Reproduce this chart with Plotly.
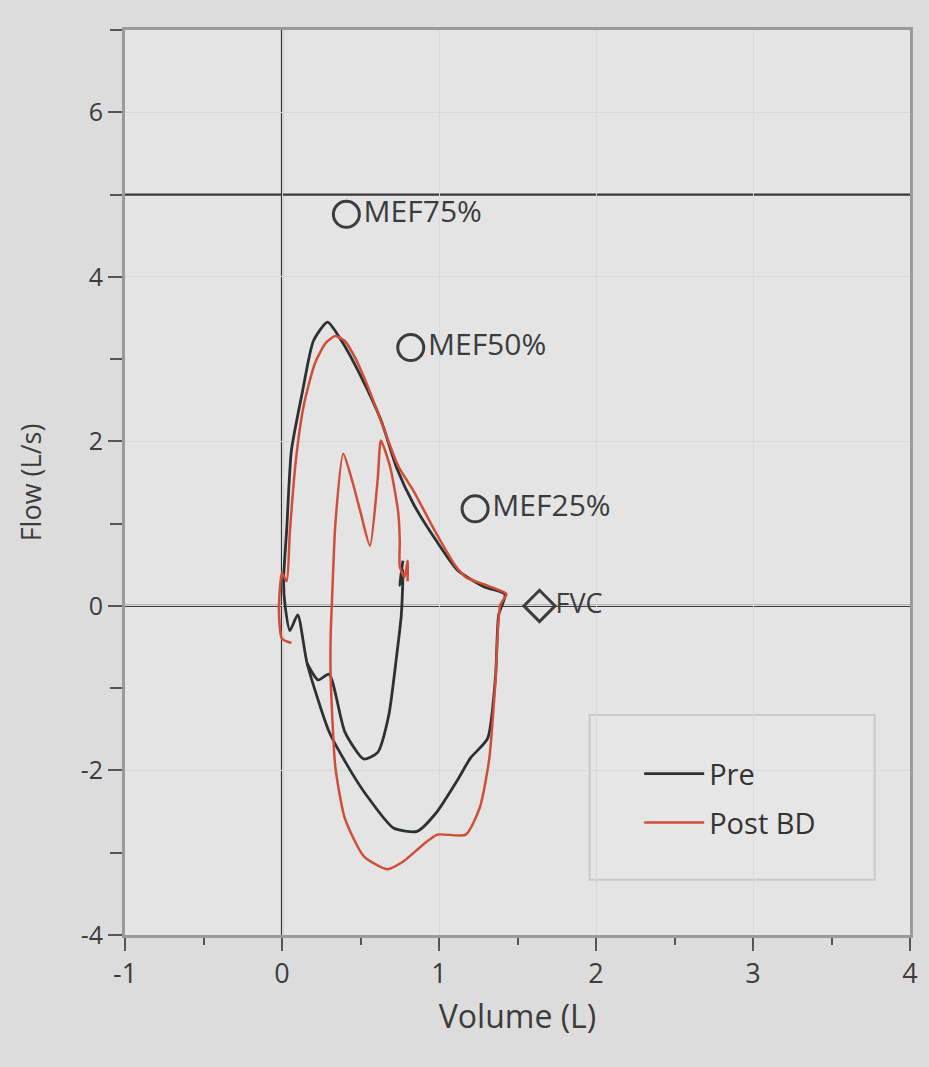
import plotly.graph_objects as go

# ---------------- data ----------------
# Pre: full loop (expiration + forced inspiration), then tidal loop
pre_loop_vol = [0.05, 0.02, 0.01, 0.03, 0.06, 0.13, 0.20, 0.29, 0.38, 0.50, 0.63, 0.73, 0.84,
                0.98, 1.12, 1.29, 1.42, 1.38, 1.36, 1.31, 1.20, 1.12, 0.98, 0.86, 0.71, 0.53,
                0.42, 0.30, 0.16, 0.10, 0.05]
pre_loop_flow = [-0.30, 0.00, 0.30, 0.93, 1.89, 2.60, 3.22, 3.45, 3.22, 2.80, 2.26, 1.68, 1.23,
                 0.80, 0.43, 0.23, 0.14, -0.11, -0.86, -1.61, -1.85, -2.11, -2.52, -2.74, -2.70, -2.28,
                 -1.95, -1.53, -0.70, -0.11, -0.30]
pre_tidal_vol = [0.16, 0.23, 0.30, 0.40, 0.52, 0.61, 0.68, 0.73, 0.76, 0.77, 0.75, 0.77]
pre_tidal_flow = [-0.70, -0.90, -0.83, -1.53, -1.86, -1.78, -1.33, -0.61, -0.11, 0.44, 0.25, 0.55]

# Post BD: start squiggle + expiration + forced inspiration + second effort
post_loop_vol = [0.06, 0.00, -0.02, 0.00, 0.03, 0.05, 0.09, 0.14, 0.21, 0.28, 0.34, 0.40, 0.47,
                 0.55, 0.63, 0.74, 0.84, 0.98, 1.10, 1.17, 1.29, 1.41, 1.43,
                 1.39, 1.36, 1.32, 1.26, 1.17, 0.99, 0.90, 0.77, 0.67, 0.52, 0.40, 0.34, 0.31,
                 0.31, 0.32, 0.34, 0.39, 0.45, 0.50, 0.56, 0.61, 0.63, 0.69, 0.74, 0.75, 0.75,
                 0.78, 0.80, 0.80]
post_loop_flow = [-0.45, -0.40, -0.05, 0.40, 0.30, 0.90, 1.80, 2.45, 2.95, 3.20, 3.28, 3.22, 3.00,
                  2.65, 2.25, 1.70, 1.39, 0.89, 0.50, 0.35, 0.26, 0.17, 0.14,
                  0.01, -0.90, -1.86, -2.45, -2.78, -2.78, -2.90, -3.11, -3.20, -3.04, -2.58, -1.96, -0.86,
                  -0.36, 0.14, 1.00, 1.85, 1.50, 1.14, 0.73, 1.55, 2.01, 1.68, 1.14, 0.80, 0.48,
                  0.35, 0.55, 0.30]

# Predicted reference points
mef_names = ["MEF75%", "MEF50%", "MEF25%"]
mef_vol = [0.41, 0.82, 1.23]
mef_flow = [4.76, 3.14, 1.18]
fvc_name = ["FVC"]
fvc_vol = [1.64]
fvc_flow = [0.0]

# Reference lines
ref_x = [0]
ref_y = [0, 5]

# Axes
x_range = [-1, 4]
y_range = [-4, 7]
x_tickvals = [-1, 0, 1, 2, 3, 4]
x_ticktext = ["-1", "0", "1", "2", "3", "4"]
y_tickvals = [-4, -2, 0, 2, 4, 6]
y_ticktext = ["-4", "-2", "0", "2", "4", "6"]

# ---------------- figure ----------------
PRE_C = "#2c3232"
POST_C = "#d04e38"
INK = "#3c3c3c"
FONT = "Open Sans"

fig = go.Figure()

pre_x = pre_loop_vol + [None] + pre_tidal_vol
pre_y = pre_loop_flow + [None] + pre_tidal_flow

fig.add_trace(go.Scatter(x=pre_x, y=pre_y, mode="lines", name="Pre",
                         legendgroup="pre", connectgaps=False,
                         line=dict(color=PRE_C, width=2.8, shape="spline", smoothing=0.6)))
fig.add_trace(go.Scatter(x=post_loop_vol, y=post_loop_flow, mode="lines", name="Post BD",
                         legendgroup="post",
                         line=dict(color=POST_C, width=2.5, shape="spline", smoothing=0.6)))

fig.add_trace(go.Scatter(x=mef_vol, y=mef_flow, mode="markers+text", text=mef_names,
                         textposition="middle right", showlegend=False,
                         textfont=dict(family=FONT, size=30, color=INK),
                         marker=dict(symbol="circle-open", size=26, color=INK,
                                     line=dict(width=3))))
fig.add_trace(go.Scatter(x=fvc_vol, y=fvc_flow, mode="markers+text", text=fvc_name,
                         textposition="middle right", showlegend=False,
                         textfont=dict(family=FONT, size=27, color=INK),
                         marker=dict(symbol="diamond-open", size=24, color=INK,
                                     line=dict(width=3))))

for xv in ref_x:
    fig.add_vline(x=xv, line=dict(color="#333333", width=2.2), layer="below")
for yv in ref_y:
    fig.add_hline(y=yv, line=dict(color="#3a3a3a", width=2.2), layer="below")

# legend box
fig.add_shape(type="rect", xref="paper", yref="paper",
              x0=0.592, x1=0.955, y0=0.061, y1=0.243,
              line=dict(color="#c9c9c9", width=2), fillcolor="#e6e6e6", layer="below")

fig.update_layout(
    width=929, height=1067,
    margin=dict(l=125, r=19, t=30, b=132),
    paper_bgcolor="#dcdcdc",
    plot_bgcolor="#e4e4e4",
    font=dict(family=FONT, color=INK),
    showlegend=True,
    legend=dict(x=0.655, y=0.151, xanchor="left", yanchor="middle",
                bgcolor="rgba(0,0,0,0)", borderwidth=0,
                font=dict(family=FONT, size=29, color="#333333"),
                itemwidth=60, tracegroupgap=8),
    xaxis=dict(range=x_range, tickmode="array", tickvals=x_tickvals, ticktext=x_ticktext,
               ticks="outside", ticklen=13, tickwidth=2, tickcolor="#555555",
               tickfont=dict(family=FONT, size=27, color=INK),
               minor=dict(dtick=0.5, ticks="outside", ticklen=7, tickwidth=2,
                          tickcolor="#555555", showgrid=False),
               showline=True, linecolor="#9a9a9a", linewidth=3, mirror=True,
               showgrid=True, gridcolor="#d9d9d9", gridwidth=1, zeroline=False,
               title=dict(text="Volume (L)", standoff=16,
                          font=dict(family=FONT, size=32, color=INK))),
    yaxis=dict(range=y_range, tickmode="array", tickvals=y_tickvals, ticktext=y_ticktext,
               ticks="outside", ticklen=14, tickwidth=2, tickcolor="#555555",
               tickfont=dict(family=FONT, size=25, color=INK),
               minor=dict(dtick=1, ticks="outside", ticklen=12, tickwidth=2,
                          tickcolor="#555555", showgrid=False),
               showline=True, linecolor="#9a9a9a", linewidth=3, mirror=True,
               showgrid=True, gridcolor="#d9d9d9", gridwidth=1, zeroline=False,
               title=dict(text="Flow (L/s)", standoff=32,
                          font=dict(family=FONT, size=27, color=INK))),
)

fig.write_html("out.html", config={"displayModeBar": False},
               post_script="document.body.style.margin='0px';")
